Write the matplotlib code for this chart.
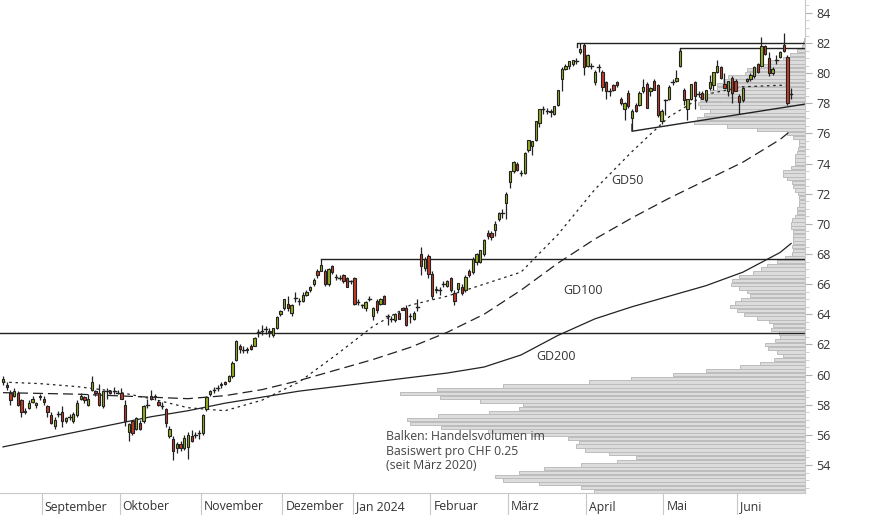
import matplotlib
matplotlib.use("Agg")
import matplotlib.pyplot as plt
import matplotlib.transforms as mtransforms
import numpy as np

plt.rcParams['font.family'] = ['Open Sans', 'DejaVu Sans']

opens = [59.5,59.3,58.8,58.6,58.8,58.3,57.5,57.8,58.2,58.0,
58.5,58.4,57.9,57.3,56.6,57.4,57.5,56.9,57.2,56.9,
57.3,58.4,58.5,58.0,59.0,58.9,58.8,57.9,58.9,58.9,
58.9,58.8,58.8,58.0,56.2,56.9,56.4,56.8,56.9,58.0,
58.6,58.6,58.2,57.9,57.7,55.9,55.7,55.1,55.4,55.1,
55.2,55.9,56.0,56.1,56.1,57.7,58.7,59.0,59.1,59.3,
59.5,59.6,59.9,61.0,61.9,61.6,61.6,61.9,61.9,62.8,
62.9,63.0,62.9,62.6,63.1,64.0,64.4,64.7,64.1,65.1,
64.9,64.9,65.3,65.6,66.0,66.9,66.9,66.9,66.0,67.2,
66.5,66.4,66.6,66.4,66.2,66.4,64.8,64.6,64.4,65.0,
63.9,64.9,64.7,65.2,63.9,63.7,63.6,64.1,64.4,64.4,
63.9,63.7,64.5,68.0,67.1,67.9,66.7,65.7,65.6,66.0,
65.9,66.4,65.4,65.7,65.8,65.6,66.9,66.8,67.5,67.5,
68.0,69.4,69.4,69.6,70.3,70.7,71.4,72.8,73.5,74.0,
73.4,73.4,74.9,75.2,75.6,76.7,77.6,77.5,77.5,77.3,
77.9,79.6,80.3,80.5,80.6,80.8,81.4,81.9,80.5,80.5,
79.4,80.4,80.1,79.4,78.8,79.2,79.4,78.3,77.6,78.7,
77.0,77.9,77.9,78.8,79.3,78.8,79.5,79.2,76.8,78.2,
78.3,79.4,79.5,80.5,78.9,77.6,78.3,79.4,78.6,78.7,
78.2,79.0,79.2,80.1,80.4,79.3,78.8,79.7,79.5,78.5,
78.2,79.5,79.6,79.8,80.6,80.5,81.8,81.0,80.0,80.9,
81.1,81.9,81.1,78.6]

highs = [59.9,59.5,59.0,59.1,58.9,58.4,57.8,58.3,58.6,58.2,
58.7,58.6,58.0,57.5,57.2,57.6,57.9,57.2,57.4,57.5,
58.3,58.8,58.6,58.7,59.9,59.0,59.4,58.9,59.1,59.0,
59.2,59.0,59.1,58.3,56.8,57.0,57.2,57.0,58.0,58.4,
59.0,58.7,58.3,58.2,57.8,56.6,55.9,55.5,55.6,56.0,
56.2,56.3,56.2,56.3,57.4,58.6,59.0,59.2,59.3,59.5,
59.6,60.0,60.9,62.3,62.0,61.9,61.8,62.0,62.5,63.0,
63.3,63.2,63.1,63.1,63.9,64.3,65.0,65.2,64.7,65.5,
65.1,65.5,65.6,65.9,66.4,67.0,67.7,67.0,67.1,67.3,
66.7,66.6,66.7,66.5,66.3,66.5,65.0,64.7,64.9,65.2,
64.5,65.0,65.1,65.3,64.0,63.9,64.1,64.2,64.5,64.6,
64.1,64.2,65.0,68.5,67.8,68.0,66.9,65.9,65.8,66.2,
66.3,66.5,65.6,66.1,66.0,66.6,67.0,67.8,68.1,68.3,
69.0,69.6,69.5,70.2,70.8,71.0,72.1,73.5,74.2,74.1,
73.6,74.8,75.6,75.5,76.8,77.6,77.8,77.7,77.6,77.8,
78.9,80.4,80.6,80.8,80.9,81.0,82.0,82.0,81.3,80.7,
80.2,80.6,80.2,79.5,79.0,79.3,79.5,78.4,78.1,78.9,
77.6,78.0,78.8,79.6,79.4,79.1,79.6,79.3,77.6,78.3,
79.2,79.6,80.2,81.7,79.0,78.3,79.3,79.5,78.8,78.8,
78.9,79.9,80.1,80.9,80.5,80.0,79.5,79.8,79.6,78.6,
79.1,79.7,80.0,80.5,80.7,82.4,81.9,81.4,80.4,81.2,
81.5,82.7,81.2,79.0]

lows = [59.3,59.0,58.0,58.5,57.9,57.2,57.4,57.7,58.1,57.8,
58.3,58.0,57.2,56.7,56.4,57.2,56.5,56.8,57.0,56.8,
57.2,58.3,58.1,57.9,58.9,58.6,57.9,57.8,58.4,58.7,
58.7,58.7,58.4,56.6,55.6,56.0,56.3,56.3,56.8,57.8,
58.3,58.3,57.9,57.7,56.5,55.8,54.3,54.8,54.9,55.0,
54.4,55.5,55.8,55.7,56.0,57.6,58.6,58.8,58.9,59.1,
59.3,59.5,59.8,60.9,61.4,61.4,61.4,61.6,61.9,62.5,
62.6,62.7,62.5,62.5,63.0,63.9,64.3,64.2,63.9,64.8,
64.6,64.8,65.2,65.5,65.9,66.4,66.9,65.9,65.9,66.7,
66.3,66.3,66.1,65.8,66.0,64.6,64.6,64.4,64.2,64.9,
63.6,64.1,64.6,64.7,63.3,63.5,63.5,63.7,64.3,63.2,
63.4,63.6,64.2,66.6,66.9,66.4,65.0,65.4,65.3,65.8,
65.8,65.5,64.6,65.5,65.3,65.5,66.5,66.7,67.3,67.4,
67.9,69.0,68.9,69.2,70.2,70.4,70.3,72.4,73.4,73.5,
73.2,73.3,74.8,74.6,75.5,76.4,77.3,77.3,77.1,77.2,
77.8,78.8,80.2,80.3,80.5,80.6,81.3,79.9,80.4,80.3,
79.2,80.1,78.8,78.3,78.5,78.8,79.1,77.9,76.9,77.7,
76.2,77.4,77.8,78.7,77.7,78.5,78.9,77.1,76.6,77.2,
78.2,79.2,79.4,80.4,77.9,76.9,78.2,77.6,78.4,78.3,
78.1,78.9,78.9,80.0,79.6,79.0,78.5,78.0,78.8,77.3,
78.1,79.4,79.5,79.7,80.0,80.4,81.2,79.8,79.9,80.6,
81.0,81.4,77.9,78.3]

closes = [59.7,59.2,58.3,58.9,58.0,57.5,57.6,58.1,58.4,58.1,
58.6,58.2,57.5,56.8,57.0,57.4,56.9,57.1,57.2,57.4,
58.1,58.6,58.3,58.4,59.5,58.8,58.0,58.9,58.9,58.8,
58.9,58.8,58.4,56.9,56.7,56.1,57.1,56.4,57.9,58.0,
58.4,58.5,58.0,57.9,56.8,56.4,54.9,55.4,55.1,55.8,
56.0,55.6,56.0,56.1,57.3,58.5,58.9,59.0,59.1,59.4,
59.4,59.9,60.8,62.2,61.7,61.6,61.7,61.7,62.4,62.8,
62.9,63.0,62.8,63.1,63.8,64.2,65.0,64.4,64.6,65.1,
64.9,65.3,65.5,65.8,66.3,66.6,67.3,66.0,67.0,66.8,
66.5,66.4,66.2,65.8,66.2,64.7,64.8,64.6,64.8,65.0,
64.4,64.3,65.0,64.7,63.9,63.7,64.0,63.7,64.3,63.3,
63.9,64.1,64.5,67.2,67.7,66.7,65.2,65.6,65.6,66.0,
66.2,65.6,64.9,66.1,65.4,66.5,66.6,67.7,68.0,68.3,
68.9,69.2,69.1,70.0,70.7,70.7,72.0,73.5,74.1,73.6,
73.4,74.7,75.6,75.5,76.8,77.6,77.6,77.5,77.4,77.8,
78.9,80.3,80.5,80.8,80.9,80.8,81.6,80.4,81.2,80.5,
80.1,80.4,79.1,78.8,78.8,78.9,79.2,78.0,78.0,77.8,
77.5,77.5,78.7,79.1,77.7,79.0,78.9,77.2,77.5,78.2,
79.1,79.4,79.7,81.5,78.2,78.3,79.3,78.5,78.6,78.3,
78.9,79.4,80.1,80.5,79.7,79.0,79.5,78.7,78.8,78.1,
79.0,79.6,79.9,80.4,80.1,81.8,81.3,80.0,80.3,80.9,
81.4,81.5,78.0,78.6]

# moving averages sampled every 10 trading days (index positions)
ma_idx = [0,10,20,30,40,50,60,70,80,90,100,110,120,130,140,150,160,170,180,190,200,210,213]
gd50 = [59.5,59.4,59.2,58.9,58.4,57.8,57.6,58.3,59.5,61.3,63.2,64.6,65.2,66.0,66.8,69.3,72.3,74.8,77.1,78.6,79.1,79.2,79.2]
gd100 = [58.8,58.75,58.7,58.6,58.5,58.4,58.6,59.0,59.6,60.3,61.0,61.8,62.8,64.0,65.6,67.4,69.0,70.4,71.7,72.9,74.1,75.6,76.2]
gd200 = [55.2,55.7,56.2,56.7,57.2,57.6,58.1,58.5,58.9,59.2,59.5,59.8,60.1,60.5,61.3,62.6,63.7,64.5,65.2,65.9,66.8,68.1,68.7]

# volume profile per CHF 0.25, starting at 52.25 (bar length in pixels from right edge)
profile_start = 52.25
profile_left_px = [594,581,539,503,495,519,544,581,617,636,609,585,576,579,568,532,488,441,410,407,438,489,519,523,480,440,400,437,503,589,631,673,706,740,
760,774,783,777,768,765,775,780,779,771,773,769,757,744,737,730,735,741,750,747,739,731,732,739,753,761,767,777,785,792,793,792,793,793,793,793,791,791,792,795,797,797,799,799,799,798,795,793,792,787,783,783,791,795,795,795,797,798,799,799,793,787,757,727,694,697,704,710,
700,698,700,703,710,717,717,723,728,745,747,763,770,783,790,797,802,803,804]

month_labels = ["September","Oktober","November","Dezember","Jan 2024","Februar","März","April","Mai","Juni"]
month_first_idx = [11,32,54,76,95,116,137,158,179,199]
yticks = list(range(54, 85, 2))

W, H = 874, 515
fig = plt.figure(figsize=(W/100, H/100), dpi=100)
rect = [0, 22/H, 805/W, 493/H]
axp = fig.add_axes(rect)
ax = fig.add_axes(rect, sharey=axp)
ax.patch.set_alpha(0)

ylo, yhi = 52.14, 84.86
pw = [805 - v for v in profile_left_px]
py = [profile_start + 0.25*k for k in range(len(pw))]
axp.barh(py, pw, height=0.22, left=0, color='#dcdcdc', edgecolor='#bcbcbc', linewidth=0.7)
axp.set_xlim(805, 0)
axp.set_ylim(ylo, yhi)
axp.axis('off')

n = len(closes)
x = np.arange(n)
ax.set_xlim(-0.81, 216.76)
ax.set_ylim(ylo, yhi)

ax.plot([-0.81, 216.76], [62.75, 62.75], color='#222', lw=1.0, zorder=2)
ax.plot([86, 216.76], [67.7, 67.7], color='#222', lw=1.0, zorder=2)
ax.plot([155.2, 155.2, 216.76], [81.75, 82.0, 82.0], color='#222', lw=1.0, zorder=2)
ax.plot([183, 183, 216.76], [81.2, 81.7, 81.7], color='#222', lw=1.0, zorder=2)
ax.plot([170, 170, 216.76], [76.6, 76.15, 77.95], color='#222', lw=1.0, zorder=2)

ax.plot(ma_idx, gd50, color='#222', lw=0.9, ls=(0, (2, 3)), zorder=2)
ax.plot(ma_idx, gd100, color='#222', lw=0.9, ls=(0, (8, 4)), zorder=2)
ax.plot(ma_idx, gd200, color='#222', lw=0.9, zorder=2)
ax.text(164.5, 72.9, "GD50", fontsize=9, color='#333', va='center')
ax.text(151.5, 65.55, "GD100", fontsize=9, color='#333', va='center')
ax.text(144, 61.17, "GD200", fontsize=9, color='#333', va='center')
ax.text(103.5, 56.3, "Balken: Handelsvolumen im\nBasiswert pro CHF 0.25\n(seit März 2020)",
        fontsize=8.8, color='#444', va='top', linespacing=1.15)

ax.vlines(x, lows, highs, color='#222', lw=0.9, zorder=3)
for i in range(n):
    o, c = opens[i], closes[i]
    if abs(c - o) < 0.05:
        ax.plot([i-0.35, i+0.35], [c, c], color='#222', lw=1.0, zorder=4)
        continue
    col = '#94ad1c' if c > o else '#c43a26'
    ax.bar(i, abs(c-o), bottom=min(o, c), width=0.62, color=col, edgecolor='#222', linewidth=0.8, zorder=4)

for s in ['left', 'top']:
    ax.spines[s].set_visible(False)
ax.spines['right'].set_color('#c8c8c8')
ax.spines['bottom'].set_color('#c8c8c8')
ax.yaxis.tick_right()
ax.set_yticks(yticks)
ax.set_yticklabels([str(v) for v in yticks], fontsize=9, color='#333')
ax.set_yticks(np.arange(52.5, 84.6, 0.5), minor=True)
ax.tick_params(axis='y', which='major', length=5, color='#b0b0b0', pad=3)
ax.tick_params(axis='y', which='minor', length=3, color='#c8c8c8')
ticks = [m - 0.5 for m in month_first_idx]
ax.set_xticks(ticks)
ax.set_xticklabels([])
ax.tick_params(axis='x', length=17, color='#c8c8c8', direction='out')
trans = mtransforms.blended_transform_factory(ax.transData, fig.transFigure)
for t, lab in zip(ticks, month_labels):
    ax.text(t + 0.8, 8/H, lab, transform=trans, fontsize=8.8, color='#333', va='center', ha='left')

fig.savefig("out.png", dpi=100)
